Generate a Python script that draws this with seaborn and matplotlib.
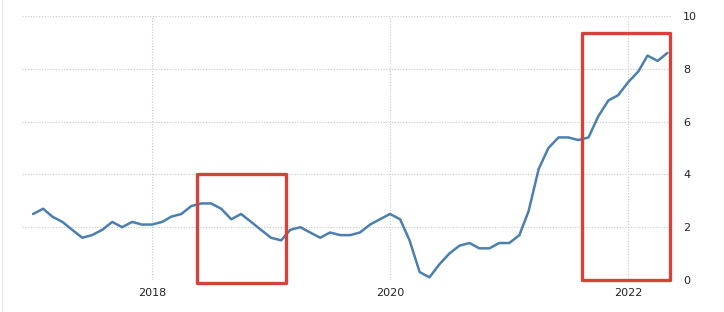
import matplotlib
matplotlib.use("Agg")
import matplotlib.pyplot as plt
import matplotlib.dates as mdates
from matplotlib.patches import Rectangle
import seaborn as sns
import pandas as pd

# Monthly inflation rate, Jan 2017 - May 2022
months = pd.date_range("2017-01-01", "2022-05-01", freq="MS")
values = [
    2.5, 2.7, 2.4, 2.2, 1.9, 1.6, 1.7, 1.9, 2.2, 2.0, 2.2, 2.1,   # 2017
    2.1, 2.2, 2.4, 2.5, 2.8, 2.9, 2.9, 2.7, 2.3, 2.5, 2.2, 1.9,   # 2018
    1.6, 1.5, 1.9, 2.0, 1.8, 1.6, 1.8, 1.7, 1.7, 1.8, 2.1, 2.3,   # 2019
    2.5, 2.3, 1.5, 0.3, 0.1, 0.6, 1.0, 1.3, 1.4, 1.2, 1.2, 1.4,   # 2020
    1.4, 1.7, 2.6, 4.2, 5.0, 5.4, 5.4, 5.3, 5.4, 6.2, 6.8, 7.0,   # 2021
    7.5, 7.9, 8.5, 8.3, 8.6,                                      # 2022
]
x_ticks = ["2018-01-01", "2020-01-01", "2022-01-01"]
x_tick_labels = ["2018", "2020", "2022"]
y_ticks = [0, 2, 4, 6, 8, 10]

# Highlight boxes: (start, end, low, high)
highlight_starts = ["2018-05-20", "2021-08-12"]
highlight_ends = ["2019-02-15", "2022-05-08"]
highlight_lows = [-0.1, 0.0]
highlight_highs = [4.0, 9.35]

df = pd.DataFrame({"date": months, "value": values})

sns.set_style("white")
plt.rcParams["font.family"] = ["DejaVu Sans"]

fig = plt.figure(figsize=(7.24, 3.12), dpi=100)
ax = fig.add_axes([0.0304, 0.1026, 0.8977, 0.8461])

sns.lineplot(data=df, x="date", y="value", ax=ax, color="#4a7fb0", linewidth=1.8)

ax.set_xlim(pd.Timestamp("2016-11-28"), pd.Timestamp("2022-05-15"))
ax.set_ylim(0, 10)
ax.set_xticks(pd.to_datetime(x_ticks))
ax.set_xticklabels(x_tick_labels)
ax.set_yticks(y_ticks)
ax.yaxis.tick_right()
ax.tick_params(axis="both", length=0, labelsize=8, colors="#222222")
ax.tick_params(axis="x", pad=6)
ax.tick_params(axis="y", pad=8)
ax.set_xlabel("")
ax.set_ylabel("")
for s in ax.spines.values():
    s.set_visible(False)
ax.grid(True, color="#c8c8c8", linestyle=(0, (1, 1.5)), linewidth=0.8)
ax.set_axisbelow(True)

for st, en, lo, hi in zip(highlight_starts, highlight_ends, highlight_lows, highlight_highs):
    x0 = mdates.date2num(pd.Timestamp(st))
    x1 = mdates.date2num(pd.Timestamp(en))
    r = Rectangle((x0, lo), x1 - x0, hi - lo, fill=False, edgecolor="#d4423a",
                  linewidth=2.4, joinstyle="round", clip_on=False, zorder=5)
    ax.add_patch(r)

fig.add_artist(plt.Line2D([0.003, 0.003], [0, 1], color="#e6e6e6", linewidth=1.0))

fig.savefig("out.png", dpi=100)
